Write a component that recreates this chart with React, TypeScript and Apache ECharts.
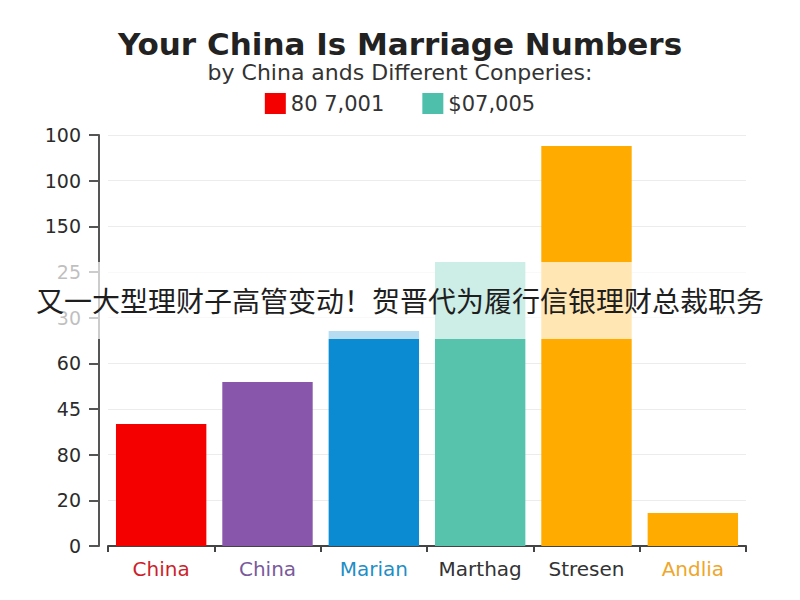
import { useEffect, useRef } from 'react';
import * as echarts from 'echarts';

const categories = ['China', 'China', 'Marian', 'Marthag', 'Stresen', 'Andlia'];
const labelColors = ['#cc1f2c', '#7a5a9c', '#1f8ec6', '#333333', '#333333', '#eea62c'];
const barColors = ['#f50000', '#8856aa', '#0a8bd2', '#57c3ad', '#ffab00', '#ffab00'];
// bar heights in tick steps (the axis labels are not monotonic)
const barValues = [2.67, 3.59, 4.71, 6.22, 8.76, 0.72];
const yTickLabels = ['0', '20', '80', '45', '60', '30', '25', '150', '100', '100'];
const legendNames = ['80 7,001', '$07,005'];
const legendColors = ['#f50000', '#4dbfaa'];
const bannerText = '又一大型理财子高管变动！贺晋代为履行信银理财总裁职务';

const font = '"DejaVu Sans", "Open Sans", sans-serif';

export default function App() {
  const chartRef = useRef<HTMLDivElement | null>(null);

  useEffect(() => {
    const element = chartRef.current;
    if (!element) {
      return;
    }
    const chart = echarts.init(element, undefined, { renderer: 'svg' });

    chart.setOption({
      animation: false,
      backgroundColor: '#ffffff',
      textStyle: { fontFamily: font },
      title: [
        {
          text: 'Your China Is Marriage Numbers',
          left: 'center',
          top: 28,
          padding: 0,
          textStyle: { fontSize: 31, fontWeight: 'bold', color: '#222222', fontFamily: font },
        },
        {
          text: 'by China ands Different Conperies:',
          left: 'center',
          top: 61,
          padding: 0,
          textStyle: { fontSize: 22, fontWeight: 'normal', color: '#333333', fontFamily: font },
        },
      ],
      legend: {
        top: 88,
        left: 'center',
        icon: 'rect',
        itemWidth: 21,
        itemHeight: 21,
        itemGap: 38,
        data: legendNames,
        textStyle: { fontSize: 21, color: '#333333', fontFamily: font },
      },
      grid: {
        left: 108,
        right: 54,
        top: 135,
        bottom: 54,
      },
      xAxis: {
        type: 'category',
        data: categories.map((name, i) => ({
          value: name,
          textStyle: { color: labelColors[i] },
        })),
        axisLine: { lineStyle: { color: '#444444', width: 2 } },
        axisTick: { show: true, interval: 0, length: 6, lineStyle: { color: '#444444', width: 2 } },
        axisLabel: { interval: 0, fontSize: 20, margin: 13, fontFamily: font },
      },
      yAxis: {
        type: 'value',
        min: 0,
        max: 9,
        interval: 1,
        offset: 9,
        axisLine: { show: true, lineStyle: { color: '#555555', width: 2 } },
        axisTick: { show: true, length: 10, lineStyle: { color: '#555555', width: 2 } },
        axisLabel: {
          fontSize: 19,
          color: '#2b2b2b',
          margin: 18,
          fontFamily: font,
          formatter: (v: number) => yTickLabels[Math.round(v)] ?? '',
        },
        splitLine: { lineStyle: { color: '#ececec', width: 1 } },
      },
      series: [
        {
          name: legendNames[0],
          type: 'bar',
          barWidth: '85%',
          barGap: '-100%',
          itemStyle: { color: legendColors[0] },
          data: barValues.map((v, i) => ({ value: v, itemStyle: { color: barColors[i] } })),
        },
        {
          name: legendNames[1],
          type: 'bar',
          barWidth: '85%',
          barGap: '-100%',
          itemStyle: { color: legendColors[1] },
          data: barValues.map(() => '-'),
        },
      ],
      graphic: [
        {
          type: 'rect',
          z: 100,
          shape: { x: 0, y: 262, width: 800, height: 77 },
          style: { fill: 'rgba(255,255,255,0.7)' },
        },
        {
          type: 'text',
          z: 101,
          x: 400,
          y: 300,
          style: {
            text: bannerText,
            fill: '#1e1e1e',
            fontSize: 28,
            fontFamily: '"Noto Sans CJK SC", sans-serif',
            align: 'center',
            verticalAlign: 'middle',
          },
        },
      ],
    });

    return () => {
      chart.dispose();
    };
  }, []);

  return (
    <div
      ref={chartRef}
      style={{ position: 'fixed', left: 0, top: 0, width: 800, height: 600 }}
    />
  );
}
